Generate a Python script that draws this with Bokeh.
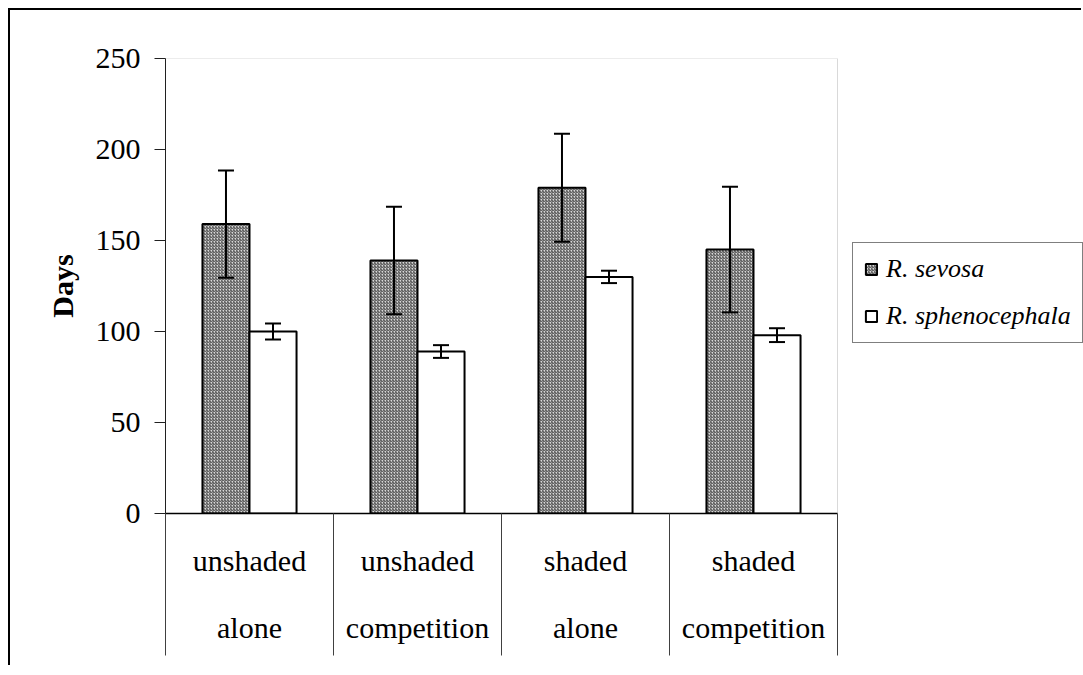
from bokeh.plotting import figure
from bokeh.models import (ColumnDataSource, Range1d, FixedTicker, Legend, LegendItem, BoxAnnotation)
from bokeh.transform import dodge
from bokeh.embed import file_html
from bokeh.resources import INLINE

categories = ["unshaded alone", "unshaded competition", "shaded alone", "shaded competition"]
line1 = ["unshaded", "unshaded", "shaded", "shaded"]
line2 = ["alone", "competition", "alone", "competition"]
sevosa = [159, 139, 179, 145]
sevosa_err = [29.5, 29.5, 29.7, 34.5]
spheno = [100, 89, 130, 98]
spheno_err = [4.4, 3.5, 3.4, 3.8]
y_ticks = [0, 50, 100, 150, 200, 250]

FONT = "Liberation Serif"
n = len(categories)
centers = [i + 0.5 for i in range(n)]  # slot centres of the categorical positions

W, H = 1073, 657
LEFT, TOP, BOTTOM = 155, 48, 154
SLOT_PX = 168  # pixel width of one category slot
x_end = (W - LEFT) / SLOT_PX  # frame runs to the canvas edge so the legend is not clipped

src = ColumnDataSource(dict(
    xc=centers,
    cat=categories,
    sev=sevosa,
    sev_lo=[v - e for v, e in zip(sevosa, sevosa_err)],
    sev_hi=[v + e for v, e in zip(sevosa, sevosa_err)],
    sph=spheno,
    sph_lo=[v - e for v, e in zip(spheno, spheno_err)],
    sph_hi=[v + e for v, e in zip(spheno, spheno_err)],
))

p = figure(width=W, height=H, output_backend="svg", toolbar_location=None,
           x_range=Range1d(0, x_end), y_range=Range1d(0, 250),
           min_border_left=LEFT, min_border_top=TOP, min_border_right=0, min_border_bottom=BOTTOM)
p.styles = {"margin": "8px 0 0 8px", "border-left": "2px solid black", "border-top": "2px solid black"}
p.xgrid.visible = False
p.ygrid.visible = False
p.outline_line_color = None
p.background_fill_color = "white"
p.border_fill_color = "white"

# plot-area border (category slots x full y range)
p.add_layout(BoxAnnotation(left=0, right=n, bottom=p.y_range.start, top=p.y_range.end,
                           fill_alpha=0, line_color="#808080", line_width=1, level="underlay"))

# y axis
ya = p.yaxis[0]
ya.ticker = FixedTicker(ticks=y_ticks)
ya.axis_label = "Days"
ya.axis_label_text_font = FONT
ya.axis_label_text_font_style = "bold"
ya.axis_label_text_font_size = "30px"
ya.axis_label_text_color = "black"
ya.axis_label_standoff = 14
ya.major_label_text_font = FONT
ya.major_label_text_font_size = "30px"
ya.major_label_text_color = "black"
ya.major_label_standoff = 14
ya.major_tick_out = 11
ya.major_tick_in = 0
ya.minor_tick_out = 0
ya.minor_tick_in = 0
ya.axis_line_color = "#202020"
ya.major_tick_line_color = "#202020"

# category axis: labels at slot centres, separators at slot boundaries
xa = p.xaxis[0]
xa.bounds = (0, n)
xa.ticker = FixedTicker(ticks=centers, minor_ticks=list(range(n + 1)))
xa.major_label_overrides = {c: f"{a}\n{b}" for c, a, b in zip(centers, line1, line2)}
xa.major_tick_out = 0
xa.major_tick_in = 0
xa.minor_tick_out = 142
xa.minor_tick_in = 0
xa.minor_tick_line_color = "#404040"
xa.axis_line_color = "black"
xa.axis_line_width = 1.5
xa.major_label_text_font = FONT
xa.major_label_text_font_size = "30px"
xa.major_label_text_color = "black"
xa.major_label_text_line_height = 2.04
xa.major_label_standoff = -112

# bars
r_sev = p.vbar(x=dodge("xc", -0.14), top="sev", width=0.28, source=src,
               fill_color="#d8d8d8", hatch_pattern="right_diagonal_line", hatch_scale=3,
               hatch_weight=1, hatch_color="#404040", line_color="black", line_width=2)
r_sph = p.vbar(x=dodge("xc", 0.14), top="sph", width=0.28, source=src,
               fill_color="white", line_color="black", line_width=2)

# error bars
for key, off in (("sev", -0.14), ("sph", 0.14)):
    xs = dodge("xc", off)
    p.segment(x0=xs, x1=xs, y0=key + "_lo", y1=key + "_hi", source=src,
              line_color="black", line_width=2)
    for end in ("_lo", "_hi"):
        p.scatter(x=xs, y=key + end, marker="dash", size=16, source=src,
                  line_color="black", line_width=2)

legend = Legend(items=[LegendItem(label="R. sevosa", renderers=[r_sev]),
                       LegendItem(label="R. sphenocephala", renderers=[r_sph])],
                location=(687, 170))
legend.label_text_font = FONT
legend.label_text_font_style = "italic"
legend.label_text_font_size = "26px"
legend.label_text_color = "black"
legend.label_height = 26
legend.glyph_width = 14
legend.glyph_height = 14
legend.label_standoff = 8
legend.spacing = 17
legend.padding = 11
legend.margin = 0
legend.border_line_color = "black"
legend.border_line_width = 1
legend.background_fill_color = "white"
legend.background_fill_alpha = 1
p.add_layout(legend, "center")

open("out.html", "w").write(file_html(p, INLINE))
